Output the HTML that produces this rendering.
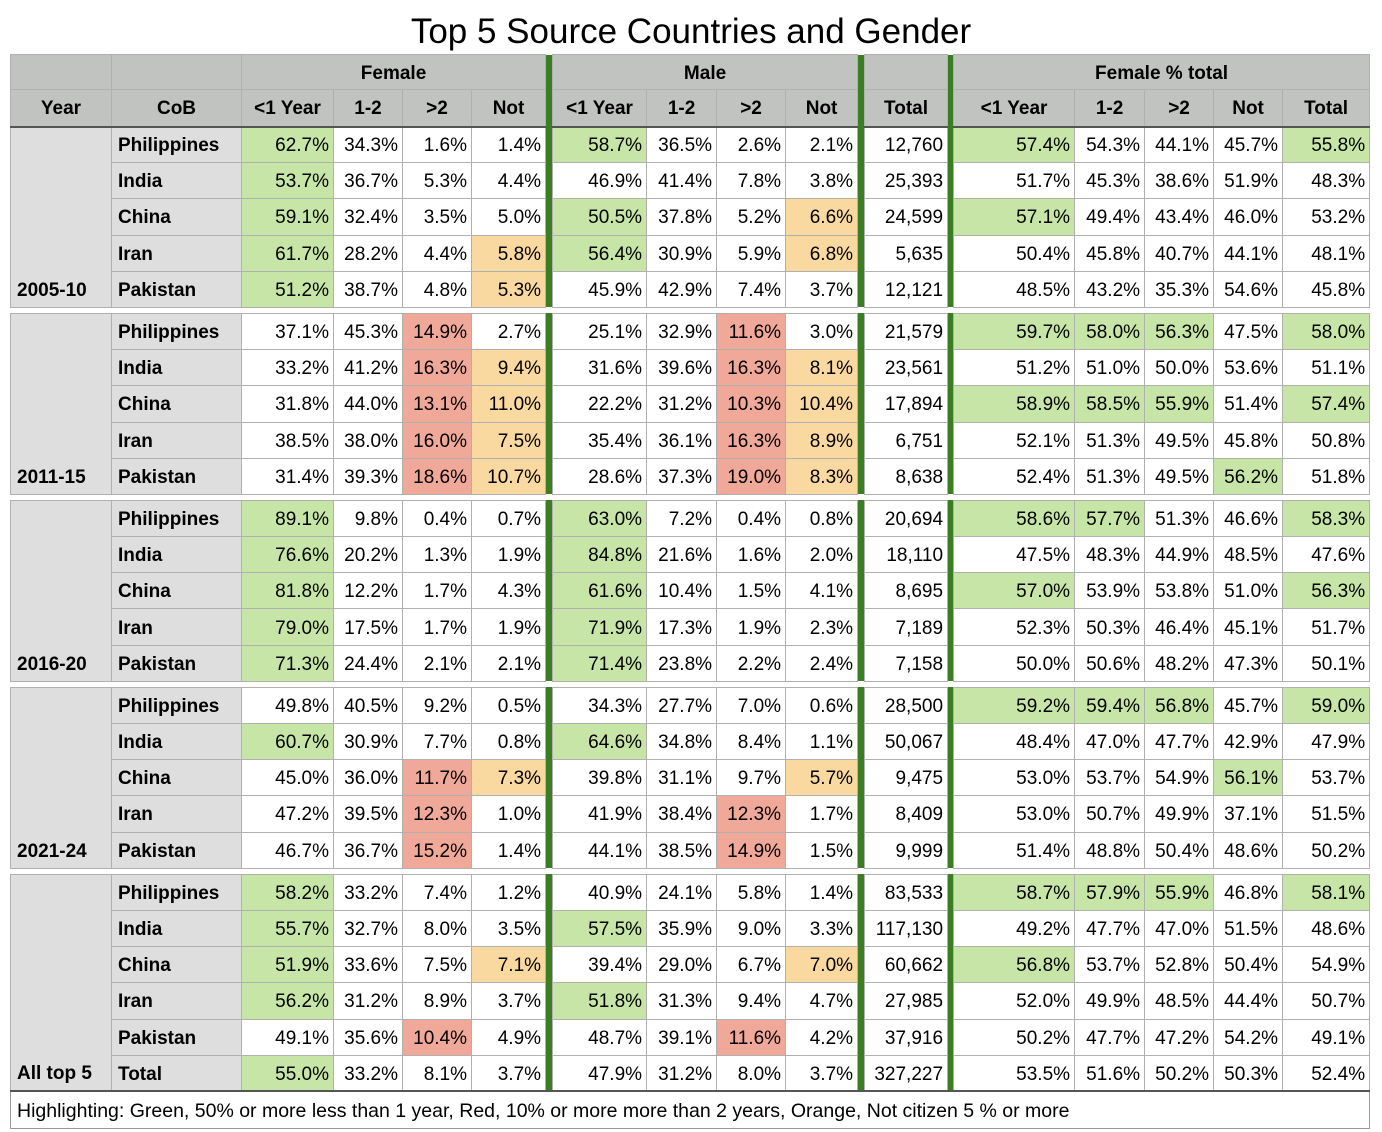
<!DOCTYPE html>
<html><head><meta charset="utf-8"><style>
body{margin:0;background:#fff;width:1382px;height:1132px;position:relative;font-family:"Liberation Sans",Tahoma,sans-serif;}
h1{position:absolute;top:10px;left:0;width:1382px;margin:0;text-align:center;font-weight:normal;font-size:35px;line-height:44px;color:#000;}
table{position:absolute;left:10px;top:54px;border-collapse:collapse;table-layout:fixed;width:1359px;font-size:19px;}
td{border:1px solid #b0b0b0;padding:3px 4px 0 0;text-align:right;white-space:nowrap;overflow:hidden;height:36.2px;box-sizing:border-box;}
tr.h1 td{height:35px;background:#c1c3c1;font-weight:bold;text-align:center;padding:3px 0 0 0;}
tr.h2 td{height:37px;background:#c1c3c1;font-weight:bold;text-align:center;padding:3px 0 0 0;border-bottom:2px solid #555;}
tr td.b{background:#3a7d22;border:none;padding:0;}
td.y{background:#dedede;font-weight:bold;text-align:left;vertical-align:bottom;padding:0 0 5px 6px;}
td.c{background:#dedede;font-weight:bold;text-align:left;padding-left:6px;}
.g{background:#c6e5a7;}.o{background:#f9d9a0;}.r{background:#f0a898;}
tr.gap td{height:6px;border:none;background:#fff;padding:0;}
td.f{text-align:left;font-size:19.5px;padding-left:6px;border:1px solid #999;height:37px;}
</style></head><body>
<h1>Top 5 Source Countries and Gender</h1>
<table>
<colgroup><col style="width:101px"><col style="width:130px"><col style="width:92px"><col style="width:69px"><col style="width:69px"><col style="width:74px"><col style="width:7px"><col style="width:94px"><col style="width:70px"><col style="width:69px"><col style="width:72px"><col style="width:7px"><col style="width:83px"><col style="width:6px"><col style="width:121px"><col style="width:70px"><col style="width:69px"><col style="width:69px"><col style="width:87px"></colgroup>
<tr class="h1"><td></td><td></td><td colspan="4">Female</td><td class="b"></td><td colspan="4">Male</td><td class="b"></td><td></td><td class="b"></td><td colspan="5">Female % total</td></tr>
<tr class="h2"><td>Year</td><td>CoB</td><td>&lt;1 Year</td><td>1-2</td><td>&gt;2</td><td>Not</td><td class="b"></td><td>&lt;1 Year</td><td>1-2</td><td>&gt;2</td><td>Not</td><td class="b"></td><td>Total</td><td class="b"></td><td>&lt;1 Year</td><td>1-2</td><td>&gt;2</td><td>Not</td><td>Total</td></tr>

<tr><td class="y" rowspan="5">2005-10</td><td class="c">Philippines</td><td class="g">62.7%</td><td>34.3%</td><td>1.6%</td><td>1.4%</td><td class="b"></td><td class="g">58.7%</td><td>36.5%</td><td>2.6%</td><td>2.1%</td><td class="b"></td><td>12,760</td><td class="b"></td><td class="g">57.4%</td><td>54.3%</td><td>44.1%</td><td>45.7%</td><td class="g">55.8%</td></tr>
<tr><td class="c">India</td><td class="g">53.7%</td><td>36.7%</td><td>5.3%</td><td>4.4%</td><td class="b"></td><td>46.9%</td><td>41.4%</td><td>7.8%</td><td>3.8%</td><td class="b"></td><td>25,393</td><td class="b"></td><td>51.7%</td><td>45.3%</td><td>38.6%</td><td>51.9%</td><td>48.3%</td></tr>
<tr><td class="c">China</td><td class="g">59.1%</td><td>32.4%</td><td>3.5%</td><td>5.0%</td><td class="b"></td><td class="g">50.5%</td><td>37.8%</td><td>5.2%</td><td class="o">6.6%</td><td class="b"></td><td>24,599</td><td class="b"></td><td class="g">57.1%</td><td>49.4%</td><td>43.4%</td><td>46.0%</td><td>53.2%</td></tr>
<tr><td class="c">Iran</td><td class="g">61.7%</td><td>28.2%</td><td>4.4%</td><td class="o">5.8%</td><td class="b"></td><td class="g">56.4%</td><td>30.9%</td><td>5.9%</td><td class="o">6.8%</td><td class="b"></td><td>5,635</td><td class="b"></td><td>50.4%</td><td>45.8%</td><td>40.7%</td><td>44.1%</td><td>48.1%</td></tr>
<tr><td class="c">Pakistan</td><td class="g">51.2%</td><td>38.7%</td><td>4.8%</td><td class="o">5.3%</td><td class="b"></td><td>45.9%</td><td>42.9%</td><td>7.4%</td><td>3.7%</td><td class="b"></td><td>12,121</td><td class="b"></td><td>48.5%</td><td>43.2%</td><td>35.3%</td><td>54.6%</td><td>45.8%</td></tr>
<tr class="gap"><td colspan="19"></td></tr>

<tr><td class="y" rowspan="5">2011-15</td><td class="c">Philippines</td><td>37.1%</td><td>45.3%</td><td class="r">14.9%</td><td>2.7%</td><td class="b"></td><td>25.1%</td><td>32.9%</td><td class="r">11.6%</td><td>3.0%</td><td class="b"></td><td>21,579</td><td class="b"></td><td class="g">59.7%</td><td class="g">58.0%</td><td class="g">56.3%</td><td>47.5%</td><td class="g">58.0%</td></tr>
<tr><td class="c">India</td><td>33.2%</td><td>41.2%</td><td class="r">16.3%</td><td class="o">9.4%</td><td class="b"></td><td>31.6%</td><td>39.6%</td><td class="r">16.3%</td><td class="o">8.1%</td><td class="b"></td><td>23,561</td><td class="b"></td><td>51.2%</td><td>51.0%</td><td>50.0%</td><td>53.6%</td><td>51.1%</td></tr>
<tr><td class="c">China</td><td>31.8%</td><td>44.0%</td><td class="r">13.1%</td><td class="o">11.0%</td><td class="b"></td><td>22.2%</td><td>31.2%</td><td class="r">10.3%</td><td class="o">10.4%</td><td class="b"></td><td>17,894</td><td class="b"></td><td class="g">58.9%</td><td class="g">58.5%</td><td class="g">55.9%</td><td>51.4%</td><td class="g">57.4%</td></tr>
<tr><td class="c">Iran</td><td>38.5%</td><td>38.0%</td><td class="r">16.0%</td><td class="o">7.5%</td><td class="b"></td><td>35.4%</td><td>36.1%</td><td class="r">16.3%</td><td class="o">8.9%</td><td class="b"></td><td>6,751</td><td class="b"></td><td>52.1%</td><td>51.3%</td><td>49.5%</td><td>45.8%</td><td>50.8%</td></tr>
<tr><td class="c">Pakistan</td><td>31.4%</td><td>39.3%</td><td class="r">18.6%</td><td class="o">10.7%</td><td class="b"></td><td>28.6%</td><td>37.3%</td><td class="r">19.0%</td><td class="o">8.3%</td><td class="b"></td><td>8,638</td><td class="b"></td><td>52.4%</td><td>51.3%</td><td>49.5%</td><td class="g">56.2%</td><td>51.8%</td></tr>
<tr class="gap"><td colspan="19"></td></tr>

<tr><td class="y" rowspan="5">2016-20</td><td class="c">Philippines</td><td class="g">89.1%</td><td>9.8%</td><td>0.4%</td><td>0.7%</td><td class="b"></td><td class="g">63.0%</td><td>7.2%</td><td>0.4%</td><td>0.8%</td><td class="b"></td><td>20,694</td><td class="b"></td><td class="g">58.6%</td><td class="g">57.7%</td><td>51.3%</td><td>46.6%</td><td class="g">58.3%</td></tr>
<tr><td class="c">India</td><td class="g">76.6%</td><td>20.2%</td><td>1.3%</td><td>1.9%</td><td class="b"></td><td class="g">84.8%</td><td>21.6%</td><td>1.6%</td><td>2.0%</td><td class="b"></td><td>18,110</td><td class="b"></td><td>47.5%</td><td>48.3%</td><td>44.9%</td><td>48.5%</td><td>47.6%</td></tr>
<tr><td class="c">China</td><td class="g">81.8%</td><td>12.2%</td><td>1.7%</td><td>4.3%</td><td class="b"></td><td class="g">61.6%</td><td>10.4%</td><td>1.5%</td><td>4.1%</td><td class="b"></td><td>8,695</td><td class="b"></td><td class="g">57.0%</td><td>53.9%</td><td>53.8%</td><td>51.0%</td><td class="g">56.3%</td></tr>
<tr><td class="c">Iran</td><td class="g">79.0%</td><td>17.5%</td><td>1.7%</td><td>1.9%</td><td class="b"></td><td class="g">71.9%</td><td>17.3%</td><td>1.9%</td><td>2.3%</td><td class="b"></td><td>7,189</td><td class="b"></td><td>52.3%</td><td>50.3%</td><td>46.4%</td><td>45.1%</td><td>51.7%</td></tr>
<tr><td class="c">Pakistan</td><td class="g">71.3%</td><td>24.4%</td><td>2.1%</td><td>2.1%</td><td class="b"></td><td class="g">71.4%</td><td>23.8%</td><td>2.2%</td><td>2.4%</td><td class="b"></td><td>7,158</td><td class="b"></td><td>50.0%</td><td>50.6%</td><td>48.2%</td><td>47.3%</td><td>50.1%</td></tr>
<tr class="gap"><td colspan="19"></td></tr>

<tr><td class="y" rowspan="5">2021-24</td><td class="c">Philippines</td><td>49.8%</td><td>40.5%</td><td>9.2%</td><td>0.5%</td><td class="b"></td><td>34.3%</td><td>27.7%</td><td>7.0%</td><td>0.6%</td><td class="b"></td><td>28,500</td><td class="b"></td><td class="g">59.2%</td><td class="g">59.4%</td><td class="g">56.8%</td><td>45.7%</td><td class="g">59.0%</td></tr>
<tr><td class="c">India</td><td class="g">60.7%</td><td>30.9%</td><td>7.7%</td><td>0.8%</td><td class="b"></td><td class="g">64.6%</td><td>34.8%</td><td>8.4%</td><td>1.1%</td><td class="b"></td><td>50,067</td><td class="b"></td><td>48.4%</td><td>47.0%</td><td>47.7%</td><td>42.9%</td><td>47.9%</td></tr>
<tr><td class="c">China</td><td>45.0%</td><td>36.0%</td><td class="r">11.7%</td><td class="o">7.3%</td><td class="b"></td><td>39.8%</td><td>31.1%</td><td>9.7%</td><td class="o">5.7%</td><td class="b"></td><td>9,475</td><td class="b"></td><td>53.0%</td><td>53.7%</td><td>54.9%</td><td class="g">56.1%</td><td>53.7%</td></tr>
<tr><td class="c">Iran</td><td>47.2%</td><td>39.5%</td><td class="r">12.3%</td><td>1.0%</td><td class="b"></td><td>41.9%</td><td>38.4%</td><td class="r">12.3%</td><td>1.7%</td><td class="b"></td><td>8,409</td><td class="b"></td><td>53.0%</td><td>50.7%</td><td>49.9%</td><td>37.1%</td><td>51.5%</td></tr>
<tr><td class="c">Pakistan</td><td>46.7%</td><td>36.7%</td><td class="r">15.2%</td><td>1.4%</td><td class="b"></td><td>44.1%</td><td>38.5%</td><td class="r">14.9%</td><td>1.5%</td><td class="b"></td><td>9,999</td><td class="b"></td><td>51.4%</td><td>48.8%</td><td>50.4%</td><td>48.6%</td><td>50.2%</td></tr>
<tr class="gap"><td colspan="19"></td></tr>

<tr><td class="y" rowspan="6">All top 5</td><td class="c">Philippines</td><td class="g">58.2%</td><td>33.2%</td><td>7.4%</td><td>1.2%</td><td class="b"></td><td>40.9%</td><td>24.1%</td><td>5.8%</td><td>1.4%</td><td class="b"></td><td>83,533</td><td class="b"></td><td class="g">58.7%</td><td class="g">57.9%</td><td class="g">55.9%</td><td>46.8%</td><td class="g">58.1%</td></tr>
<tr><td class="c">India</td><td class="g">55.7%</td><td>32.7%</td><td>8.0%</td><td>3.5%</td><td class="b"></td><td class="g">57.5%</td><td>35.9%</td><td>9.0%</td><td>3.3%</td><td class="b"></td><td>117,130</td><td class="b"></td><td>49.2%</td><td>47.7%</td><td>47.0%</td><td>51.5%</td><td>48.6%</td></tr>
<tr><td class="c">China</td><td class="g">51.9%</td><td>33.6%</td><td>7.5%</td><td class="o">7.1%</td><td class="b"></td><td>39.4%</td><td>29.0%</td><td>6.7%</td><td class="o">7.0%</td><td class="b"></td><td>60,662</td><td class="b"></td><td class="g">56.8%</td><td>53.7%</td><td>52.8%</td><td>50.4%</td><td>54.9%</td></tr>
<tr><td class="c">Iran</td><td class="g">56.2%</td><td>31.2%</td><td>8.9%</td><td>3.7%</td><td class="b"></td><td class="g">51.8%</td><td>31.3%</td><td>9.4%</td><td>4.7%</td><td class="b"></td><td>27,985</td><td class="b"></td><td>52.0%</td><td>49.9%</td><td>48.5%</td><td>44.4%</td><td>50.7%</td></tr>
<tr><td class="c">Pakistan</td><td>49.1%</td><td>35.6%</td><td class="r">10.4%</td><td>4.9%</td><td class="b"></td><td>48.7%</td><td>39.1%</td><td class="r">11.6%</td><td>4.2%</td><td class="b"></td><td>37,916</td><td class="b"></td><td>50.2%</td><td>47.7%</td><td>47.2%</td><td>54.2%</td><td>49.1%</td></tr>
<tr><td class="c">Total</td><td class="g">55.0%</td><td>33.2%</td><td>8.1%</td><td>3.7%</td><td class="b"></td><td>47.9%</td><td>31.2%</td><td>8.0%</td><td>3.7%</td><td class="b"></td><td>327,227</td><td class="b"></td><td>53.5%</td><td>51.6%</td><td>50.2%</td><td>50.3%</td><td>52.4%</td></tr>
<tr><td class="f" colspan="19" style="border-top:2px solid #555;">Highlighting: Green, 50% or more less than 1 year, Red, 10% or more more than 2 years, Orange, Not citizen 5 % or more</td></tr>
</table>
</body></html>
